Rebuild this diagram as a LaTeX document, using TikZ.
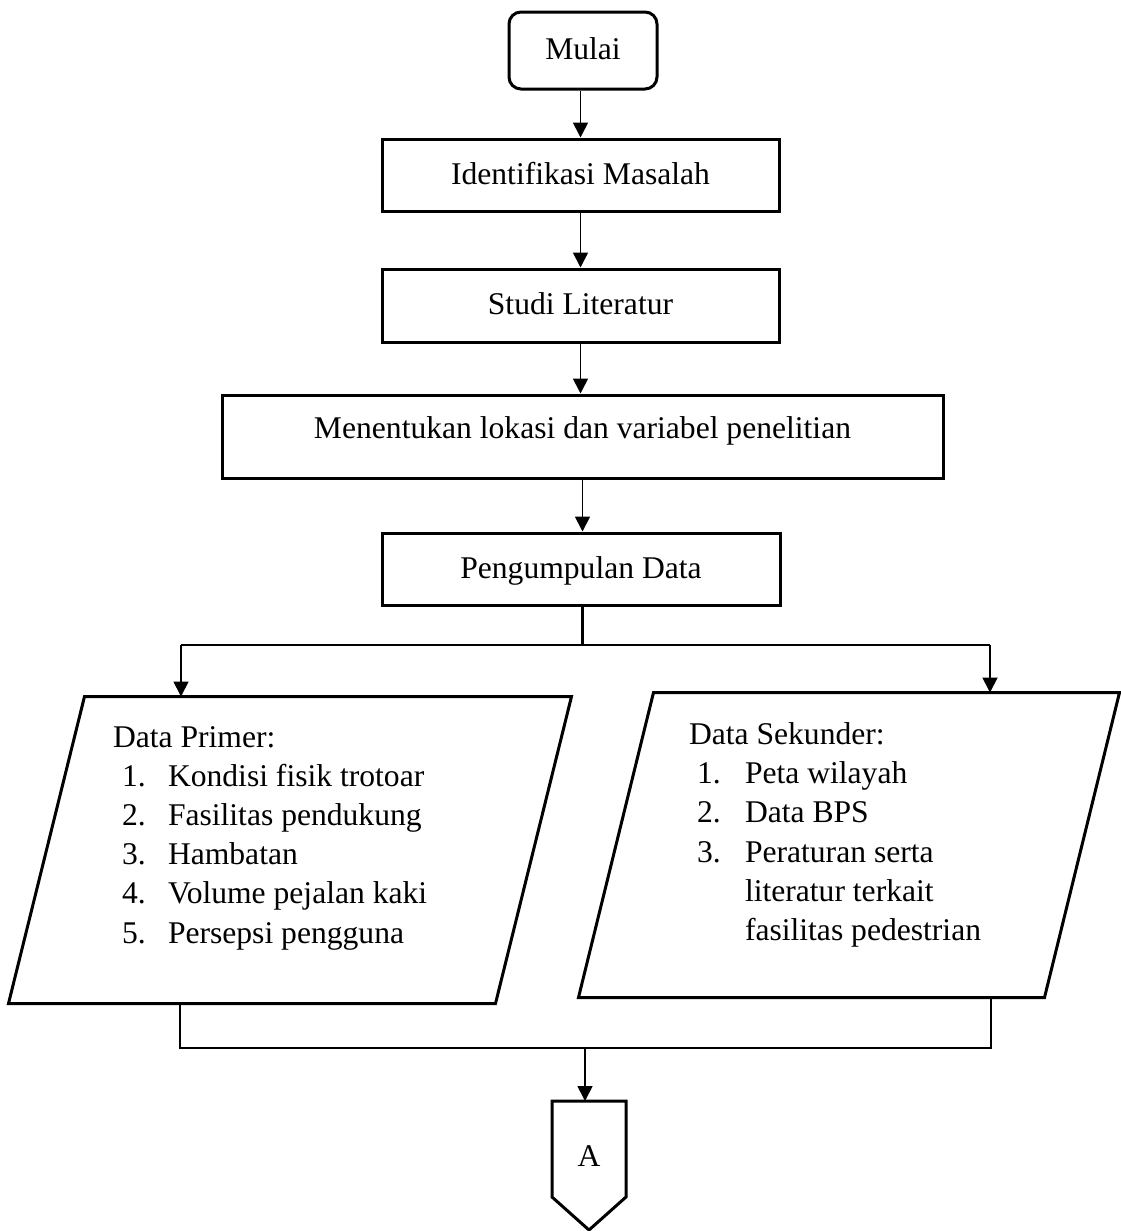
\documentclass[tikz,border=0pt]{standalone}
\usepackage{fontspec}
\setmainfont{Liberation Serif}
\usetikzlibrary{arrows.meta,calc}
\newcommand\myfs{\fontsize{15.8pt}{19pt}\selectfont}
\begin{document}
\begin{tikzpicture}[x=0.5pt,y=-0.5pt,
  every node/.style={font=\myfs},
  box/.style={draw, line width=1.5pt, rectangle, inner sep=0pt, text height=11.85pt, text depth=2.85pt},
  paraarea/.style={rectangle, inner sep=0pt, outer sep=0.75pt},
  arr/.style={line width=0.9pt, -{Triangle[length=7.5pt,width=7.5pt]}},
  link/.style={line width=1.3pt},
  edge1/.style={line width=1.5pt},
  txt/.style={anchor=base west, inner sep=0pt, outer sep=0pt}]
\useasboundingbox (0,0) rectangle (1120,1231);

% process boxes
\node[box, rounded corners=6pt, minimum width=74pt, minimum height=38.5pt] (mulai) at (583,50.5) {Mulai};
\node[box, minimum width=198.5pt, minimum height=36pt] (idm) at (580.5,175) {Identifikasi Masalah};
\node[box, minimum width=198.5pt, minimum height=36.5pt] (studi) at (580.5,305.5) {Studi Literatur};
\node[box, minimum width=360.5pt, minimum height=41.5pt, text depth=10.35pt] (lokasi) at (582.5,436.5) {Menentukan lokasi dan variabel penelitian};
\node[box, minimum width=199pt, minimum height=36pt] (kumpul) at (581,569) {Pengumpulan Data};

% data parallelograms (area nodes + outlines)
\node[paraarea, minimum width=280pt, minimum height=152pt] (primer) at (290,850) {};
\draw[edge1] ($(primer.north west)+(76,0)$) -- (primer.north east) -- ($(primer.south east)+(-76,0)$) -- (primer.south west) -- cycle;
\node[paraarea, minimum width=269pt, minimum height=151pt] (sekunder) at (849,845) {};
\draw[edge1] ($(sekunder.north west)+(75,0)$) -- (sekunder.north east) -- ($(sekunder.south east)+(-75,0)$) -- (sekunder.south west) -- cycle;

\node[txt] (ph) at (113,747) {Data Primer:};
\foreach \t [count=\i] in {Kondisi fisik trotoar, Fasilitas pendukung, Hambatan, Volume pejalan kaki, Persepsi pengguna}{
  \node[txt] (pn\i) at (122,{747+39.2*\i}) {\i.};
  \node[txt] (pt\i) at (168,{747+39.2*\i}) {\t};
}

\node[txt] (sh) at (689,744) {Data Sekunder:};
\node[txt] (sn1) at (697,783.3) {1.};
\node[txt] (st1) at (745,783.3) {Peta wilayah};
\node[txt] (sn2) at (697,822.6) {2.};
\node[txt] (st2) at (745,822.6) {Data BPS};
\node[txt] (sn3) at (697,862) {3.};
\node[txt] (st3) at (745,862) {Peraturan serta};
\node[txt] (st4) at (745,901.3) {literatur terkait};
\node[txt] (st5) at (745,940.6) {fasilitas pedestrian};

% off-page connector
\node[inner sep=0pt, outer sep=0pt, minimum width=37pt, minimum height=48pt, text height=17pt, text depth=0pt] (conA) at (589,1149) {A};
\draw[edge1] (conA.north west) -- (conA.north east) -- (conA.south east)
  -- ($(conA.south)+(0,33)$) -- (conA.south west) -- cycle;

% connectors
\coordinate (bl) at (181,645);
\coordinate (br) at (990,645);
\coordinate (jl) at (180,1048);
\coordinate (jr) at (991,1048);
\coordinate (jm) at (585,1048);

\draw[arr] (idm.north |- mulai.south) -- (idm.north);
\draw[arr] (idm.south) -- (studi.north);
\draw[arr] (studi.south) -- (studi.south |- lokasi.north);
\draw[arr] (lokasi.south) -- (lokasi.south |- kumpul.north);
\draw[link] (lokasi.south |- kumpul.south) -- (lokasi.south |- bl);
\draw[link] (bl) -- (br);
\draw[arr] (bl) -- (bl |- primer.north);
\draw[arr] (br) -- (br |- sekunder.north);
\draw[link] (jl |- primer.south) -- (jl) -- (jr) -- (jr |- sekunder.south);
\draw[arr] (jm) -- (jm |- conA.north);
\end{tikzpicture}
\end{document}
